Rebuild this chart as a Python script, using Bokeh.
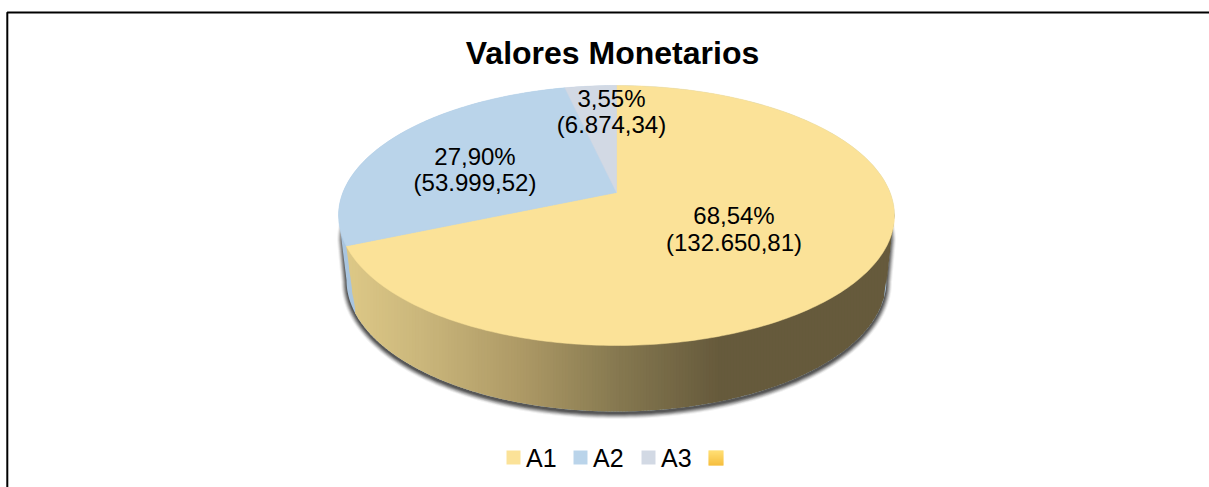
import numpy as np
from bokeh.plotting import figure
from bokeh.models import Range1d
from bokeh.core.properties import value
from bokeh.embed import file_html
from bokeh.resources import INLINE

title_text = "Valores Monetarios"
categories = ["A1", "A2", "A3", ""]
amounts = [132650.81, 53999.52, 6874.34]
pct_labels = ["68,54%", "27,90%", "3,55%"]
amt_labels = ["(132.650,81)", "(53.999,52)", "(6.874,34)"]
top_colors = ["#FBE298", "#BAD4EA", "#D2D9E4"]

W, H = 1209, 487
FONT = value("Liberation Sans")
p = figure(width=W, height=H, output_backend="svg", toolbar_location=None,
           x_range=Range1d(0, W), y_range=Range1d(H, 0), min_border=0,
           outline_line_color=None, background_fill_color="white",
           border_fill_color="white")
p.axis.visible = False
p.grid.visible = False
p.margin = (0, 0, 0, 0)

# pie geometry in pixels
AP_X, AP_Y = 616.0, 192.0      # projected centre of the disc
H_Y, K, A_X = 125.9, 0.177, 273.6
TOP = dict(cx=616.0, cy=215.0, a=278.0, b=130.0)
BOT = dict(cx=616.0, cy=279.5, a=270.0, b=131.5)


def project(theta):
    x, y = np.sin(theta), np.cos(theta)
    w = 1 + K * y
    return AP_X + A_X * x / w, AP_Y - H_Y * y / w


def arc(e, t, grow=0.0):
    return e["cx"] + (e["a"] + grow) * np.cos(t), e["cy"] + (e["b"] + grow) * np.sin(t)


def hull(top, bot, grow=0.0):
    tu = np.linspace(np.pi, 2 * np.pi, 120)
    tl = np.linspace(0, np.pi, 160)
    ux, uy = arc(top, tu, grow)
    lx, ly = arc(bot, tl, grow)
    return np.r_[ux, lx], np.r_[uy, ly]


# soft shadow under the disc
shadow_top = dict(cx=616.0, cy=240.0, a=274.0, b=130.0)
shadow_bot = dict(cx=616.0, cy=281.5, a=270.0, b=131.5)
for g, al in zip([5.5, 4.5, 3.5, 2.5, 1.5, 0.5], [0.06, 0.12, 0.18, 0.24, 0.3, 0.36]):
    sx, sy = hull(shadow_top, shadow_bot, g)
    p.patch(sx, sy, fill_color="#262626", fill_alpha=al, line_color=None)

# side wall: A2 sliver below, A1 gradient strips over it
sx, sy = hull(TOP, BOT)
p.patch(sx, sy, fill_color="#A9C5DF", line_color=None)

tl = np.linspace(0, np.pi, 400)
bx, by = arc(BOT, tl)
order = np.argsort(bx)
low_x = np.r_[TOP["cx"] - TOP["a"], bx[order], TOP["cx"] + TOP["a"]]
low_y = np.r_[TOP["cy"], by[order], TOP["cy"]]
tx, ty = arc(TOP, tl)
o2 = np.argsort(tx)
up_x, up_y = tx[o2], ty[o2]

theta_a1 = 2 * np.pi * amounts[0] / sum(amounts)
ex, ey = project(theta_a1)


def lower(x):
    y = np.interp(x, low_x, low_y)
    # wall boundary between A1 and A2 on the left
    lim = ey + (x - ex) * 7.5
    return np.minimum(y, lim) if x < ex + 60 else y


stops_x = [345, 420, 520, 620, 720, 900]
stops_c = [(222, 201, 135), (203, 183, 124), (174, 154, 102),
           (133, 120, 80), (102, 90, 60), (102, 90, 60)]
xs_s, ys_s, cs_s = [], [], []
col = np.arange(ex, 894, 3.0)
for x0 in col:
    x1 = min(x0 + 4.0, 894)
    y0t = np.interp(x0, up_x, up_y) - 3
    y1t = np.interp(x1, up_x, up_y) - 3
    xs_s.append([x0, x1, x1, x0])
    ys_s.append([y0t, y1t, lower(x1), lower(x0)])
    m = x0 + 1.5
    c = [int(np.interp(m, stops_x, [s[i] for s in stops_c])) for i in range(3)]
    cs_s.append("#%02x%02x%02x" % tuple(c))
p.patches(xs_s, ys_s, fill_color=cs_s, line_color=None)

# top face, one wedge per category, through the perspective projection
start = 0.0
total = sum(amounts)
for v, c in zip(amounts, top_colors):
    end = start + 2 * np.pi * v / total
    th = np.linspace(start, end, max(int(v / total * 360), 6))
    ax, ay = project(th)
    p.patch(np.r_[AP_X, ax], np.r_[AP_Y, ay], fill_color=c, line_color=c, line_width=0.5)
    start = end

# title and labels
p.text([612], [52], text=[title_text], text_font=FONT, text_font_style="bold",
       text_font_size="32px", text_align="center", text_baseline="middle", text_color="#000000")
label_x = [733.5, 474.5, 611]
pct_y = [215, 156, 98]
amt_y = [242, 182, 124]
p.text(label_x, pct_y, text=pct_labels, text_font=FONT, text_font_size="24px",
       text_align="center", text_baseline="middle", text_color="#000000")
p.text(label_x, amt_y, text=amt_labels, text_font=FONT, text_font_size="24px",
       text_align="center", text_baseline="middle", text_color="#000000")

# legend
leg_x = [506, 573, 641, 708]
leg_colors = top_colors
for x, c in zip(leg_x[:3], leg_colors):
    p.quad(left=[x], right=[x + 14], top=[450], bottom=[464], fill_color=c, line_color=None)
rows = np.arange(450, 465, 1.0)
last = ["#%02x%02x%02x" % (255 - int(0.9 * (r - 450)), 212 - int(3 * (r - 450)), 70 - int(5 * (r - 450)))
        for r in rows]
p.quad(left=[leg_x[3]] * len(rows), right=[leg_x[3] + 15] * len(rows), top=rows, bottom=rows + 1,
       fill_color=last, line_color=None)
p.text([x + 19.5 for x in leg_x[:3]], [457] * 3, text=categories[:3], text_font=FONT,
       text_font_size="25px", text_align="left", text_baseline="middle", text_color="#000000")

# frame
p.line([6.8, 6.8, W], [H, 12, 12], line_color="#000000", line_width=2)

open("out.html", "w").write(file_html(p, INLINE))
